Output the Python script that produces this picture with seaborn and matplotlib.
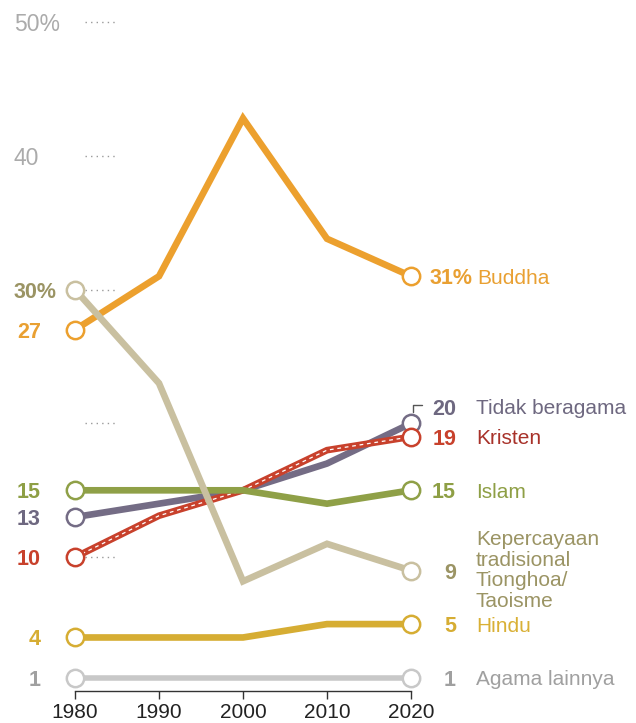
import matplotlib
matplotlib.use("Agg")
import matplotlib.pyplot as plt
import seaborn as sns
import pandas as pd

years = [1980, 1990, 2000, 2010, 2020]

buddha = [27, 31, 42.8, 33.8, 31]
tionghoa = [30, 23, 8.2, 11, 9]
tidak = [13, 14, 15, 17, 20]
kristen = [10, 13.1, 15, 18, 19]
islam = [15, 15, 15, 14, 15]
hindu = [4, 4, 4, 5, 5]
lainnya = [1, 1, 1, 1, 1]

names = ["Agama lainnya", "Hindu", "Tidak beragama", "Kristen", "Islam",
         "Buddha", "Kepercayaan\ntradisional\nTionghoa/\nTaoisme"]
values = [lainnya, hindu, tidak, kristen, islam, buddha, tionghoa]
line_colors = ["#C8C8C8", "#D6AD33", "#746C85", "#C8412C", "#8FA047",
               "#ECA02E", "#C9C0A0"]
text_colors = ["#A0A0A0", "#D9B035", "#6E6880", "#A8322A", "#8E9F45",
               "#E9A032", "#9B9464"]
num_colors = ["#A0A0A0", "#D6AD33", "#6E6880", "#C8412C", "#8E9F45",
              "#E9A032", "#9B9464"]
left_labels = ["1", "4", "13", "10", "15", "27", "30%"]
right_labels = ["1", "5", "20", "19", "15", "31%", "9"]

ytick_vals = [10, 20, 30, 40, 50]
ytick_text = {50: "50%", 40: "40"}

sns.set_style("white")
plt.rcParams["font.family"] = ["Liberation Sans", "DejaVu Sans"]

fig = plt.figure(figsize=(6.36, 7.23), dpi=100)
ax = fig.add_axes([0, 0, 1, 1])
PX_X = 336 / 40.0
PX_Y = 669 / 50.0
ax.set_xlim(1980 - 75 / PX_X, 2020 + 225 / PX_X)
ax.set_ylim(0 - 32 / PX_Y, 50 + 22 / PX_Y)

# short dotted guide stubs
for v in ytick_vals:
    ax.plot([1980 + 10 / PX_X, 1980 + 41 / PX_X], [v, v], color="#9A9A9A",
            lw=1.0, linestyle=(0, (1, 3)), zorder=1)
    if v in ytick_text:
        ax.annotate(ytick_text[v], xy=(1980, v), xytext=(-61 * 0.72, 0),
                    textcoords="offset points", ha="left",
                    va="center_baseline", fontsize=16.5, color="#ABABAB")

for i, (name, vals) in enumerate(zip(names, values)):
    df = pd.DataFrame({"year": years, "value": vals})
    z = 3 + i
    lw = 4.0 if name == "Agama lainnya" else 4.8
    sns.lineplot(data=df, x="year", y="value", ax=ax, color=line_colors[i],
                 linewidth=lw, zorder=z, solid_capstyle="butt",
                 solid_joinstyle="miter")
    if name == "Kristen":
        ax.plot(df["year"], df["value"], color="white", lw=0.9,
                dashes=(3, 3), zorder=z + 0.1)
    ends = df[df["year"].isin([years[0], years[-1]])]
    ax.plot(ends["year"], ends["value"], linestyle="none", marker="o",
            markersize=12.5, markerfacecolor="white",
            markeredgecolor=line_colors[i], markeredgewidth=1.8, zorder=z + 0.2)

    # left labels
    lab = left_labels[i]
    if lab.endswith("%"):
        ax.annotate(lab, xy=(1980, vals[0]), xytext=(-61 * 0.72, 0),
                    textcoords="offset points", ha="left",
                    va="center_baseline", fontsize=15.5, fontweight="bold",
                    color=num_colors[i])
    else:
        ax.annotate(lab, xy=(1980, vals[0]), xytext=(-34 * 0.72, 0),
                    textcoords="offset points", ha="right",
                    va="center_baseline", fontsize=15.5, fontweight="bold",
                    color=num_colors[i])

    # right labels
    dy = 12 if name == "Tidak beragama" else 0
    lab = right_labels[i]
    if lab.endswith("%"):
        ax.annotate(lab, xy=(2020, vals[-1]), xytext=(19 * 0.72, dy),
                    textcoords="offset points", ha="left",
                    va="center_baseline", fontsize=15.5, fontweight="bold",
                    color=num_colors[i])
        ax.annotate(name, xy=(2020, vals[-1]), xytext=(66 * 0.72, dy),
                    textcoords="offset points", ha="left",
                    va="center_baseline", fontsize=15, color=text_colors[i])
    else:
        ax.annotate(lab, xy=(2020, vals[-1]), xytext=(45 * 0.72, dy),
                    textcoords="offset points", ha="right",
                    va="center_baseline", fontsize=15.5, fontweight="bold",
                    color=num_colors[i])
        if "\n" in name:
            ax.annotate(name, xy=(2020, vals[-1]), xytext=(65 * 0.72, dy),
                        textcoords="offset points", ha="left", va="center",
                        fontsize=15, color=text_colors[i], linespacing=1.1)
        else:
            ax.annotate(name, xy=(2020, vals[-1]), xytext=(65 * 0.72, dy),
                        textcoords="offset points", ha="left",
                        va="center_baseline", fontsize=15,
                        color=text_colors[i])
    if name == "Tidak beragama":
        v = vals[-1]
        ax.plot([2020 + 2 / PX_X, 2020 + 2 / PX_X, 2020 + 11 / PX_X],
                [v + 11 / PX_Y, v + 18 / PX_Y, v + 18 / PX_Y],
                color="#555555", lw=1.0, zorder=2)

# x axis
for s in ["left", "right", "top"]:
    ax.spines[s].set_visible(False)
ax.spines["bottom"].set_position(("data", 0))
ax.spines["bottom"].set_bounds(years[0], years[-1])
ax.spines["bottom"].set_color("#333333")
ax.spines["bottom"].set_linewidth(1.0)
ax.set_xticks(years)
ax.set_xticklabels([str(y) for y in years])
ax.tick_params(axis="x", bottom=True, direction="out", length=6, width=1.0,
               color="#333333", labelsize=15, pad=3, labelcolor="#222222")
ax.set_yticks([])
ax.set_xlabel("")
ax.set_ylabel("")

fig.savefig("out.png", dpi=100)
